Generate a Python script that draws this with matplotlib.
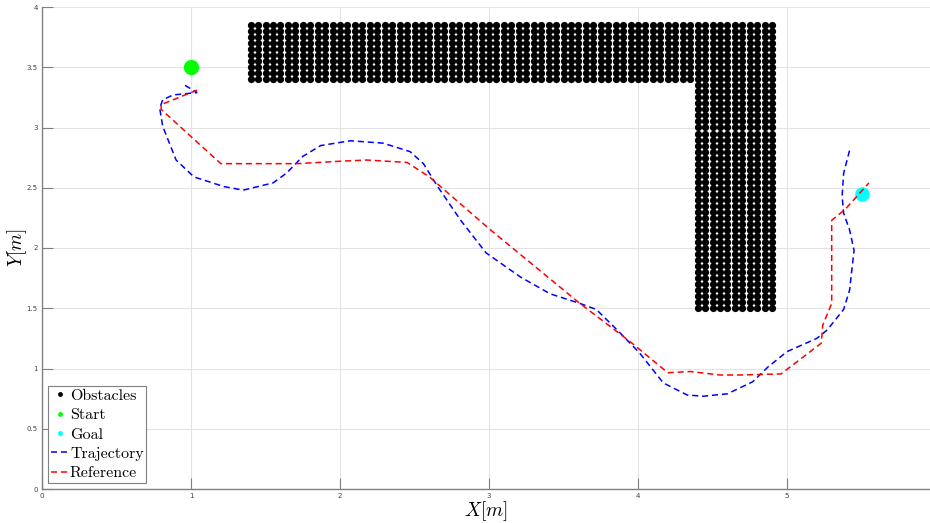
import numpy as np
import matplotlib
matplotlib.use("Agg")
import matplotlib.pyplot as plt

plt.rcParams['mathtext.fontset'] = 'cm'

# Obstacle blocks (x range, y range) on a 0.05 m grid
obstacle_step = 0.05
obstacle_blocks = [((1.40, 4.90), (3.40, 3.85)),
                   ((4.40, 4.90), (1.50, 3.35))]

start_xy = (1.0, 3.5)
goal_xy = (5.5, 2.45)

# Robot trajectory
traj_x = [0.96, 1.04, 0.88, 0.81, 0.79, 0.81, 0.90, 1.02, 1.22, 1.35, 1.55, 1.64,
          1.75, 1.87, 2.07, 2.29, 2.47, 2.56, 2.65, 2.81, 2.98, 3.21, 3.41, 3.61,
          3.72, 3.86, 4.01, 4.17, 4.33, 4.44, 4.60, 4.77, 4.87, 5.00, 5.20, 5.27,
          5.38, 5.42, 5.45, 5.42, 5.38, 5.37, 5.38, 5.42]
traj_y = [3.35, 3.29, 3.27, 3.23, 3.16, 3.01, 2.73, 2.59, 2.51, 2.48, 2.54, 2.62,
          2.76, 2.85, 2.89, 2.87, 2.80, 2.70, 2.52, 2.23, 1.96, 1.76, 1.62, 1.54,
          1.49, 1.32, 1.13, 0.88, 0.78, 0.77, 0.79, 0.89, 1.01, 1.14, 1.25, 1.32,
          1.49, 1.65, 1.98, 2.15, 2.29, 2.43, 2.62, 2.81]

# Reference path
ref_x = [1.04, 0.80, 0.80, 1.20, 1.71, 2.00, 2.18, 2.45, 2.60, 3.01, 3.61, 3.95,
         4.20, 4.35, 4.55, 4.68, 4.96, 5.23, 5.24, 5.30, 5.30, 5.39, 5.55]
ref_y = [3.31, 3.19, 3.15, 2.70, 2.70, 2.72, 2.73, 2.71, 2.59, 2.15, 1.54, 1.22,
         0.965, 0.975, 0.946, 0.946, 0.955, 1.21, 1.36, 1.54, 2.23, 2.32, 2.54]

ox, oy = [], []
for (x0, x1), (y0, y1) in obstacle_blocks:
    gx, gy = np.meshgrid(np.arange(x0, x1 + 1e-6, obstacle_step),
                         np.arange(y0, y1 + 1e-6, obstacle_step))
    ox.extend(gx.ravel())
    oy.extend(gy.ravel())

fig = plt.figure(figsize=(9.3, 5.23), dpi=100)
ax = fig.add_axes([42 / 930, 34 / 523, 888 / 930, 482 / 523])

ax.plot(ox, oy, 'o', color='black', markersize=5.2, markeredgewidth=0, label='Obstacles')
ax.plot(*start_xy, 'o', color='#00ff00', markersize=11, markeredgewidth=0, label='Start')
ax.plot(*goal_xy, 'o', color='#00ffff', markersize=10.5, markeredgewidth=0, label='Goal')
ax.plot(traj_x, traj_y, color='blue', linewidth=1.1, dashes=(4, 2.5), label='Trajectory')
ax.plot(ref_x, ref_y, color='red', linewidth=1.1, dashes=(4, 2.5), label='Reference')

ax.set_xlim(0, 888 / 149)
ax.set_ylim(0, 4)
ax.set_xticks([0, 1, 2, 3, 4, 5])
ax.set_yticks(np.arange(0, 4.01, 0.5))
ax.set_xticklabels(['0', '1', '2', '3', '4', '5'])
ax.set_yticklabels(['0', '0.5', '1', '1.5', '2', '2.5', '3', '3.5', '4'])
ax.tick_params(direction='in', length=8, width=0.8, color='#808080',
               labelsize=5, labelcolor='#404040', pad=3)
ax.grid(True, color='#e3e3e3', linewidth=0.8)
ax.set_axisbelow(True)
for s in ['top', 'right']:
    ax.spines[s].set_visible(False)
for s in ['left', 'bottom']:
    ax.spines[s].set_color('#808080')
    ax.spines[s].set_linewidth(1.0)

ax.set_xlabel('$X[m]$', fontsize=14)
ax.set_ylabel('$Y[m]$', fontsize=14)
ax.xaxis.set_label_coords(0.5, -0.021)
ax.yaxis.set_label_coords(-0.015, 0.5)

leg = ax.legend(loc='lower left', prop={'family': 'cmr10', 'size': 11.5},
                fancybox=False, framealpha=1, edgecolor='#808080',
                handlelength=1.15, handletextpad=0.05, labelspacing=0.32,
                borderpad=0.15, borderaxespad=0.4)
leg.get_frame().set_linewidth(0.8)
for h in leg.legend_handles:
    if h.get_marker() == 'o':
        h.set_markersize(3.5)

fig.savefig('out.png', dpi=100)
